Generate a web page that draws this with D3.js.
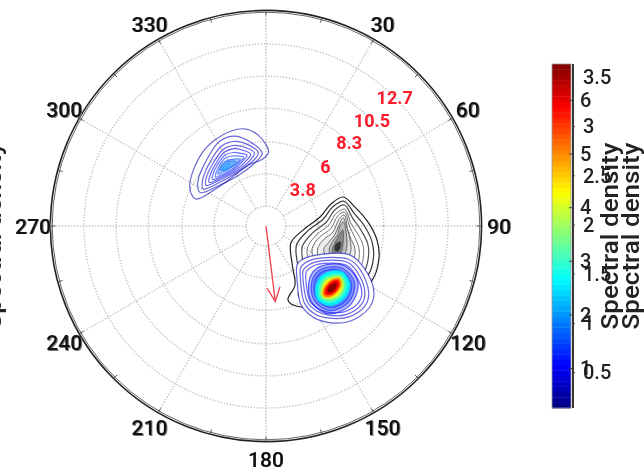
<!DOCTYPE html>
<html><head><meta charset="utf-8">
<script src="https://cdn.jsdelivr.net/npm/d3@7/dist/d3.min.js"></script>
<style>
html,body{margin:0;padding:0;background:#fff;overflow:hidden}
svg{display:block;filter:blur(0.55px)}
text{font-family:Roboto,sans-serif;font-weight:500}
</style></head><body>
<script>
// --- data: directions (deg), frequency rings, tick labels
const angleLabels = [0,30,60,90,120,150,180,210,240,270,300,330];
const angleShown = [30,60,90,120,150,180,210,240,270,300,330];
const minorAngles = d3.range(0,360,15);
const freqRings = [3.8,6,8.3,10.5,12.7];
const freqInner = 1.6;
const freqOuter = 15;
const freqLabels = ["3.8","6","8.3","10.5","12.7"];
const colorbarTicksA = [6,5,4,3,2,1];
const colorbarTicksB = [3.5,3,2.5,2,1.5,1,0.5];
const windDirection = 173;
const windLength = 5.45;

// --- contours of the spectrum: each is [direction deg, frequency]
const blackLevels = [1,2,3,4,5,6,7,8,9,10];
const blackContours = [
[[69.4,5.88],[78,6.47],[87.8,7.23],[97.2,7.9],[105.8,8.28],[117,8.4],[137,7.65],[161,5.96],[163.4,5.5],[153.8,4.74],[146,3.46],[124,2.3],[96,2.8],[80.5,3.99],[71.3,4.94]],
[[72.4,5.84],[82,6.35],[90.3,7.0],[98.5,7.58],[106,7.9],[115.7,8.0],[133,7.35],[154,5.9],[155,5.45],[148,4.8],[141,3.7],[122,2.7],[97,3.1],[83,4.2],[74,5.0]],
[[75,5.8],[85,6.2],[92.5,6.75],[99.7,7.3],[106.2,7.55],[114.5,7.65],[129.5,7.1],[147,5.85],[149,5.45],[142,4.9],[136,3.95],[119.8,3.1],[98.8,3.45],[86,4.4],[77,5.05]],
[[78,5.75],[88,6.05],[95,6.55],[101,7.0],[106.3,7.2],[113.3,7.3],[126,6.8],[141,5.75],[143,5.45],[136.5,5.0],[131.5,4.2],[118,3.45],[100,3.75],[89,4.55],[80,5.1]],
[[80,5.7],[90,5.95],[97,6.35],[102,6.7],[106.4,6.9],[112,7],[123,6.55],[135.5,5.7],[137,5.45],[131,5.05],[127,4.4],[116,3.75],[101.5,4.0],[92,4.7],[82,5.2]],
[[82,5.65],[93,5.85],[99,6.15],[103,6.45],[106.5,6.6],[111,6.65],[120,6.3],[130,5.65],[131,5.45],[126,5.1],[123,4.6],[114,4.1],[103,4.3],[95,4.85],[84,5.3]],
[[84,5.55],[92,5.8],[100,6.1],[107,6.3],[114,6.1],[122,5.65],[124,5.4],[119,5.0],[112,4.5],[104,4.7],[97,5.0],[90,5.2]],
[[87,5.55],[95,5.75],[104,5.95],[110,5.95],[117,5.55],[115,5.1],[110,4.85],[104,4.9],[96,5.2],[90,5.3]],
[[93,5.5],[103,5.65],[109,5.7],[112,5.55],[113,5.25],[109,5.05],[104,5.1],[98,5.25]],
[[102,5.45],[106,5.55],[109,5.5],[110,5.3],[107,5.15],[104,5.2]]
];

const swellLevels = [0.15,0.2,0.25,0.3,0.4,0.5,0.6,0.7,0.85,1.0];
const swellContours = [
[[2,5.3],[355,6.5],[346,7.1],[330,7.1],[316,6.8],[297,6.1],[291,5.4],[307,4.5],[321,4.3],[345,4.6],[356.5,4.8]],
[[357,5.24],[350.4,6.0],[341,6.75],[331.6,6.86],[320,6.4],[302.9,5.8],[297,5.3],[311.7,4.46],[333,4.2],[353,4.8]],
[[354,5.3],[348,5.9],[340,6.4],[331,6.5],[320,6.1],[306,5.6],[300.5,5.25],[313,4.6],[333,4.4],[350,4.85]],
[[351,5.3],[346,5.75],[339,6.15],[331,6.25],[321,5.9],[309,5.5],[304,5.2],[315,4.7],[333,4.5],[347,4.9]],
[[348,5.25],[344,5.6],[338,5.95],[331,6.05],[322,5.75],[312,5.4],[307.5,5.15],[317,4.75],[332,4.6],[344,4.95]],
[[345,5.25],[341,5.5],[336,5.75],[330,5.85],[322,5.6],[314,5.3],[311,5.1],[319,4.8],[331,4.7],[341,5.0]],
[[342,5.2],[338,5.4],[333,5.6],[328,5.65],[322,5.45],[316,5.2],[314,5.05],[321,4.85],[331,4.8],[338,5.0]],
[[339,5.15],[335,5.3],[330,5.45],[325,5.45],[320,5.25],[317,5.1],[322,4.95],[330,4.9],[336,5.0]],
[[335,5.1],[331,5.3],[326,5.35],[321,5.2],[323,5.0],[330,4.95]],
[[330,5.15],[326,5.22],[322.5,5.15],[325,5.02]]
];

const mainLevels = [0.2,0.25,0.3,0.38,0.46,0.55,0.65,1.25,1.5,1.85,2.2,2.6,3.05,3.45];
const mainContours = [
[[134,3.6],[123,4.0],[109,6.3],[113,7.5],[121.4,8.9],[128.5,9.26],[139,8.9],[148,8.0],[153,7.2],[156,6.1],[150,4.5],[141.5,3.65]],
[[134,3.91],[124,4.27],[112,6.32],[115,7.38],[123,8.63],[129,8.95],[138,8.63],[146,7.83],[151,7.12],[153.5,6.14],[148,4.71],[140.5,3.96]],
[[134,4.17],[125,4.49],[114,6.33],[117,7.29],[124,8.41],[129.4,8.7],[138,8.41],[145,7.69],[149,7.05],[151.4,6.17],[146.6,4.89],[140,4.2]],
[[133.7,4.4],[126,4.68],[116,6.34],[118.6,7.2],[124.6,8.21],[129.8,8.47],[137.3,8.21],[143.8,7.56],[147.4,6.99],[149.6,6.2],[145,5.04],[139,4.43]],
[[133,4.73],[121.7,5.23],[117,6.44],[121.7,7.65],[133,8.15],[144.3,7.65],[149,6.44],[144.3,5.23]],
[[133,4.94],[123.1,5.38],[119,6.44],[123.1,7.5],[133,7.94],[142.9,7.5],[147,6.44],[142.9,5.38]],
[[133,5.14],[124.4,5.52],[120.9,6.44],[124.4,7.36],[133,7.74],[141.6,7.36],[145.1,6.44],[141.6,5.52]],
[[121,6.4],[125,7.25],[133,7.55],[141,7.25],[145,6.44],[141,5.65],[133,5.34],[125,5.65]],
[[122.5,6.44],[126,7.1],[133,7.36],[140,7.1],[143.5,6.44],[140,5.8],[133,5.52],[126,5.8]],
[[124,6.44],[127,6.95],[133,7.2],[139,6.95],[142,6.44],[139,5.95],[133,5.69],[127,5.95]],
[[125,6.44],[128,6.85],[133,7.04],[138,6.85],[141,6.44],[138,6.05],[133,5.84],[128,6.05]],
[[125.5,6.44],[128,6.78],[133,6.9],[138,6.78],[140.5,6.44],[138,6.1],[133,5.98],[128,6.1]],
[[127,6.44],[129,6.68],[133,6.78],[137,6.68],[139,6.44],[137,6.2],[133,6.1],[129,6.2]],
[[129,6.44],[131,6.6],[133,6.65],[135.5,6.6],[137,6.44],[135,6.25],[133,6.22],[131,6.28]]
];

// --- layout
const W=644,H=476,cx=266,cy=226;
const rScale=d3.scaleLinear().domain([3.8,12.7]).range([52,182]);
const aScale=d3.scaleLinear().domain([0,360]).range([0,2*Math.PI]);
const jetStops=["#00007f","#0000ff","#007fff","#00ffff","#7fff7f","#ffff00","#ff7f00","#ff0000","#7f0000"];
const jet=d3.scaleLinear().domain(jetStops.map((c,i)=>i/(jetStops.length-1))).range(jetStops).interpolate(d3.interpolateRgb);
const levelColor=d3.scaleLinear().domain([0,3.5]).range([0,1]);
const color=v=>jet(levelColor(v));

const svg=d3.select("body").append("svg").attr("width",W).attr("height",H);
const plot=svg.append("g").attr("transform",`translate(${cx},${cy})`);
const pt=(a,f)=>d3.pointRadial(aScale(a),rScale(f));

// grid
const gridStyle=s=>s.attr("fill","none").attr("stroke","#c4c4c4").attr("stroke-width",1.5).attr("stroke-dasharray","1.3 1.7");
plot.selectAll("circle.ring").data([freqInner,...freqRings]).join("circle").attr("class","ring")
  .attr("r",d=>rScale(d)).call(gridStyle);
plot.selectAll("line.spoke").data(angleLabels).join("line").attr("class","spoke")
  .attr("x1",d=>pt(d,freqInner)[0]).attr("y1",d=>pt(d,freqInner)[1])
  .attr("x2",d=>pt(d,freqOuter)[0]).attr("y2",d=>pt(d,freqOuter)[1]).call(gridStyle);

// outer circle + ticks
plot.append("circle").attr("r",rScale(freqOuter)).attr("fill","none").attr("stroke","#222").attr("stroke-width",1.6);
plot.append("circle").attr("r",rScale(freqOuter)-1.8).attr("fill","none").attr("stroke","#666").attr("stroke-width",1);
plot.selectAll("line.tick").data(minorAngles).join("line").attr("class","tick")
  .attr("x1",d=>pt(d,freqOuter)[0]).attr("y1",d=>pt(d,freqOuter)[1])
  .attr("x2",d=>d3.pointRadial(aScale(d),rScale(freqOuter)-5)[0])
  .attr("y2",d=>d3.pointRadial(aScale(d),rScale(freqOuter)-5)[1])
  .attr("stroke","#555").attr("stroke-width",1);

// contours
const ring=d3.lineRadial().angle(d=>aScale(d[0])).radius(d=>rScale(d[1])).curve(d3.curveCatmullRomClosed);
const blackStroke=d3.scaleLinear().domain([1,4,10]).range(["#222","#666","#555"]);
const blackFill=d3.scaleLinear().domain([5,7,8,9,10]).range(["#ffffff","#dddddd","#bbbbbb","#888888","#333333"]);
plot.selectAll("path.black").data(blackContours).join("path").attr("class","black")
  .attr("d",ring)
  .attr("fill",(d,i)=>blackLevels[i]>=6?blackFill(blackLevels[i]):"none")
  .attr("stroke",(d,i)=>blackStroke(blackLevels[i]))
  .attr("stroke-width",(d,i)=>i<3?1.2:0.9);

plot.selectAll("path.swell").data(swellContours).join("path").attr("class","swell")
  .attr("d",ring)
  .attr("fill",(d,i)=>swellLevels[i]>=0.7?color(swellLevels[i]):"none")
  .attr("fill-opacity",0.3)
  .attr("stroke",(d,i)=>color(swellLevels[i]))
  .attr("stroke-opacity",0.6)
  .attr("stroke-width",1.2);

plot.selectAll("path.main").data(mainContours).join("path").attr("class","main")
  .attr("d",ring)
  .attr("fill",(d,i)=>i===0?"#fff":(mainLevels[i]>=0.46?color(mainLevels[i]):"none"))
  .attr("fill-opacity",(d,i)=>i===0?1:(mainLevels[i]<1?0.28:1))
  .attr("stroke",(d,i)=>color(mainLevels[i]))
  .attr("stroke-opacity",(d,i)=>mainLevels[i]<1?0.6:1)
  .attr("stroke-width",(d,i)=>mainLevels[i]<1?1.2:0.6);

// wind arrow
svg.append("defs").append("marker").attr("id","head").attr("viewBox","-14 -8 16 16")
  .attr("markerUnits","userSpaceOnUse").attr("markerWidth",16).attr("markerHeight",16)
  .attr("refX",0).attr("refY",0).attr("orient","auto")
  .append("path").attr("d",d3.line()([[-14,-6.5],[0,0],[-14,6.5]])).attr("fill","none").attr("stroke","#f43a48").attr("stroke-width",1.3);
plot.append("line").attr("x1",0).attr("y1",0)
  .attr("x2",pt(windDirection,windLength)[0]).attr("y2",pt(windDirection,windLength)[1])
  .attr("stroke","#f43a48").attr("stroke-width",1.3).attr("marker-end","url(#head)");

// frequency labels
plot.selectAll("text.freq").data(freqRings).join("text").attr("class","freq")
  .attr("x",d=>pt(45,d)[0]).attr("y",d=>pt(45,d)[1]).attr("dy","0.36em")
  .attr("text-anchor","middle").attr("font-size",18).style("font-weight",700)
  .attr("fill","#fb1a2a").text((d,i)=>freqLabels[i]);

// angle labels (doubled, as in the figure)
const labelR=233;
[[1,"#777"],[0,"#111"]].forEach(([off,col])=>{
  plot.append("g").selectAll("text").data(angleShown).join("text")
    .attr("x",d=>d3.pointRadial(aScale(d),labelR)[0]+(d===180?0:off))
    .attr("y",d=>d3.pointRadial(aScale(d),labelR)[1]+(d===180?0:off*0.5))
    .attr("dy","0.36em").attr("text-anchor","middle").attr("font-size",21)
    .attr("fill",col).style("font-weight",500).text(d=>d);
});

// colorbar
const barX=552,barW=19,barTop=64,barBot=408;
const bandY=d3.scaleBand().domain(d3.range(64)).range([barBot,barTop]);
svg.append("g").selectAll("rect").data(d3.range(64)).join("rect")
  .attr("x",barX).attr("y",d=>bandY(d)).attr("width",barW).attr("height",bandY.bandwidth()+0.4)
  .attr("fill",d=>jet((d+0.5)/64));
svg.append("rect").attr("x",barX).attr("y",barTop).attr("width",barW).attr("height",barBot-barTop)
  .attr("fill","none").attr("stroke","#999").attr("stroke-width",0.8);
svg.append("line").attr("x1",barX+barW+2).attr("x2",barX+barW+2).attr("y1",barTop).attr("y2",barBot)
  .attr("stroke","#222").attr("stroke-width",1.8);

const yA=d3.scaleLinear().domain([6,1]).range([100,368]);
const yB=d3.scaleLinear().domain([3.5,0.5]).range([77,372]);
const axA=d3.axisLeft(yA).tickValues(colorbarTicksA).tickSize(3).tickFormat("");
svg.append("g").attr("transform",`translate(${barX+barW+1},0)`).call(axA)
  .call(g=>g.select(".domain").remove()).selectAll("line").attr("stroke","#444");
const axB=d3.axisRight(yB).tickValues(colorbarTicksB.slice(1)).tickSize(2).tickFormat("");
svg.append("g").attr("transform",`translate(${barX+barW+2},0)`).call(axB)
  .call(g=>g.select(".domain").remove()).selectAll("line").attr("stroke","#444");

svg.append("g").selectAll("text").data(colorbarTicksA).join("text")
  .attr("x",580).attr("y",d=>yA(d)).attr("dy","0.36em").attr("font-size",20).attr("fill","#222").text(d=>d);
svg.append("g").selectAll("text").data(colorbarTicksB).join("text")
  .attr("x",583).attr("y",d=>yB(d)).attr("dy","0.36em").attr("font-size",20).attr("fill","#222").text(d=>d);

// axis titles (the figure carries the title three times)
[[1,236],[618,236],[639,236]].forEach(([x,y])=>{
  svg.append("text").attr("transform",`translate(${x},${y}) rotate(-90)`)
    .attr("text-anchor","middle").attr("font-size",24).attr("fill","#222")
    .attr("textLength",187).attr("lengthAdjust","spacingAndGlyphs").text("Spectral density");
});
</script>
</body></html>
